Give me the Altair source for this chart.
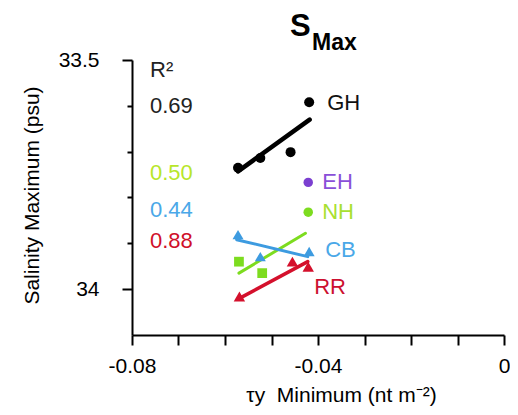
import altair as alt
import pandas as pd

# ---- data ----
pt_series = ["GH", "GH", "GH", "GH", "EH", "NH", "NH", "NH", "CB", "CB", "CB", "RR", "RR", "RR"]
pt_marker = ["circle", "circle", "circle", "circle", "circle",
             "square", "square", "circle",
             "triangle-up", "triangle-up", "triangle-up",
             "triangle-up", "triangle-up", "triangle-up"]
pt_size = [100, 100, 100, 100, 90, 95, 95, 90, 120, 120, 120, 130, 130, 130]
pt_tau = [-0.0572, -0.0524, -0.0459, -0.0419, -0.0421,
          -0.0570, -0.0520, -0.0421,
          -0.0572, -0.0524, -0.0419,
          -0.0569, -0.0455, -0.0421]
pt_sal = [33.735, 33.714, 33.701, 33.592, 33.767,
          33.940, 33.965, 33.832,
          33.881, 33.929, 33.918,
          34.016, 33.940, 33.951]

fit_series = ["GH", "GH", "NH", "NH", "CB", "CB", "RR", "RR"]
fit_tau = [-0.0572, -0.0418, -0.0570, -0.0427, -0.0575, -0.0422, -0.0569, -0.0422]
fit_sal = [33.743, 33.630, 33.965, 33.878, 33.892, 33.929, 34.020, 33.940]
fit_width = [4.5, 4.5, 3, 3, 3, 3, 3.5, 3.5]

series_names = ["GH", "EH", "NH", "CB", "RR"]
series_colors = ["#000000", "#7b3fd0", "#7ddc1f", "#3d9be0", "#d4102c"]
label_tau = [-0.0419, -0.0421, -0.0421, -0.0419, -0.0421]
label_sal = [33.592, 33.767, 33.832, 33.918, 33.951]
label_dx = [18, 14, 14, 16, 6]
label_dy = [1, 0, 0, -2, 20]
label_colors = ["#111111", "#8a4fd8", "#a8e030", "#4aa8e8", "#cc1030"]

r2_texts = ["R\u00b2", "0.69", "0.50", "0.44", "0.88"]
r2_colors = ["#222222", "#222222", "#b8e62a", "#4aa8e8", "#d0102a"]
r2_y = [17, 53, 120, 157, 188]

x_tick_values = [-0.08, -0.07, -0.06, -0.05, -0.04, -0.03, -0.02, -0.01, 0.0]
x_tick_labels = ["-0.08", "", "", "", "-0.04", "", "", "", "0"]
y_tick_values = [33.5, 33.6, 33.7, 33.8, 33.9, 34.0]
y_tick_labels = ["33.5", "", "", "", "", "34"]

FONT = "Liberation Sans"


def label_expr(values, labels):
    parts = []
    for v, l in zip(values, labels):
        if l:
            parts.append(f"abs(datum.value - ({v})) < 1e-6 ? '{l}' : ")
    return "".join(parts) + "''"


pts = pd.DataFrame({"series": pt_series, "marker": pt_marker, "size": pt_size,
                    "tau": pt_tau, "sal": pt_sal})
fits = pd.DataFrame({"series": fit_series, "tau": fit_tau, "sal": fit_sal, "w": fit_width})

x_scale = alt.Scale(domain=[-0.08, 0.0], nice=False, zero=False)
y_scale = alt.Scale(domain=[33.5, 34.1], reverse=True, nice=False, zero=False)
color_scale = alt.Scale(domain=series_names, range=series_colors)

x_axis = alt.Axis(
    values=x_tick_values, labelExpr=label_expr(x_tick_values, x_tick_labels),
    title="\u03c4y\u00a0\u00a0Minimum (nt m\u207b\u00b2)", grid=False,
    tickSize=10, tickWidth=2, tickColor="black", domainColor="black", domainWidth=2,
    labelFont=FONT, labelFontSize=21, labelColor="black", labelPadding=10,
    labelFlush=False, labelOverlap=False,
    titleFont=FONT, titleFontSize=21, titleFontWeight="normal", titleColor="black",
    titleX=209, titleY=66, titleBaseline="alphabetic",
)
y_axis = alt.Axis(
    values=y_tick_values, labelExpr=label_expr(y_tick_values, y_tick_labels),
    title="Salinity Maximum (psu)", grid=False,
    tickSize={"condition": {"test": "abs(datum.value - 33.5) < 1e-6 || abs(datum.value - 34) < 1e-6", "value": 10}, "value": 5},
    tickWidth=2, tickColor="black", domainColor="black", domainWidth=2,
    labelFont=FONT, labelFontSize=21, labelColor="black", labelPadding=23,
    labelFlush=False, labelOverlap=False,
    titleFont=FONT, titleFontSize=21, titleFontWeight="normal", titleColor="black",
    titleX=-94, titleY=135, titleBaseline="alphabetic", titleAngle=-90,
)

fit_layer = alt.Chart(fits).mark_line(strokeCap="round").encode(
    x=alt.X("tau:Q", scale=x_scale, axis=x_axis),
    y=alt.Y("sal:Q", scale=y_scale, axis=y_axis),
    color=alt.Color("series:N", scale=color_scale, legend=None),
    detail="series:N",
    strokeWidth=alt.StrokeWidth("w:Q", scale=None),
)

point_layer = alt.Chart(pts).mark_point(filled=True, opacity=1).encode(
    x=alt.X("tau:Q", scale=x_scale),
    y=alt.Y("sal:Q", scale=y_scale),
    color=alt.Color("series:N", scale=color_scale, legend=None),
    shape=alt.Shape("marker:N", scale=None),
    size=alt.Size("size:Q", scale=None),
)

layers = [fit_layer, point_layer]

for name, t, s, dx, dy, c in zip(series_names, label_tau, label_sal, label_dx, label_dy, label_colors):
    df = pd.DataFrame({"tau": [t], "sal": [s], "txt": [name]})
    layers.append(
        alt.Chart(df).mark_text(align="left", baseline="middle", dx=dx, dy=dy,
                                font=FONT, fontSize=22, color=c).encode(
            x=alt.X("tau:Q", scale=x_scale),
            y=alt.Y("sal:Q", scale=y_scale),
            text="txt:N",
        )
    )

for txt, c, yy in zip(r2_texts, r2_colors, r2_y):
    df = pd.DataFrame({"txt": [txt]})
    layers.append(
        alt.Chart(df).mark_text(align="left", baseline="alphabetic", font=FONT,
                                fontSize=22, color=c).encode(
            x=alt.value(18), y=alt.value(yy), text="txt:N")
    )

title_df = pd.DataFrame({"txt": ["S"]})
layers.append(
    alt.Chart(title_df).mark_text(align="left", baseline="alphabetic", font=FONT,
                                  fontSize=31, fontWeight="bold", color="black").encode(
        x=alt.value(158), y=alt.value(-24), text="txt:N")
)
sub_df = pd.DataFrame({"txt": ["Max"]})
layers.append(
    alt.Chart(sub_df).mark_text(align="left", baseline="alphabetic", font=FONT,
                                fontSize=23, fontWeight="bold", color="black").encode(
        x=alt.value(180), y=alt.value(-10), text="txt:N")
)

chart = alt.layer(*layers).properties(
    width=372, height=275,
    autosize="none",
    padding={"left": 124, "top": 52, "right": 6, "bottom": 71},
    background="white",
).configure_view(stroke=None)

chart.save("out.html", embed_options={"renderer": "svg", "actions": False})
